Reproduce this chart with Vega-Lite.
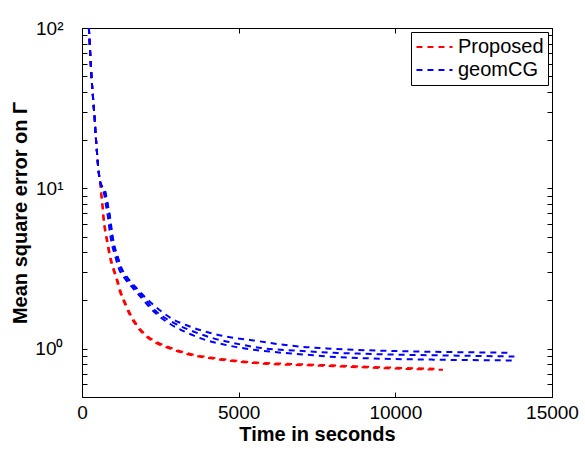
{
"$schema":"https://vega.github.io/schema/vega-lite/v6.json",
"width":470,"height":369,
"autosize":{"type":"none"},
"padding":{"left":82,"top":28,"right":33,"bottom":52},
"background":"white",
"config":{
 "font":"Liberation Sans",
 "view":{"stroke":"black","strokeWidth":1},
 "axis":{"grid":false,"domainColor":"black","tickColor":"black","labelColor":"black","titleColor":"black","labelFont":"Liberation Sans","titleFont":"Liberation Sans","labelFontSize":19,"titleFontSize":20,"titleFontWeight":"bold","tickSize":-5,"labelOverlap":false,"labelFlush":false},
 "legend":{"orient":"top-right","offset":4,"title":null,"symbolType":"stroke","symbolSize":1300,"symbolStrokeWidth":2,"symbolDash":[6,5],"labelFontSize":20,"labelFont":"Liberation Sans","labelColor":"black","labelOffset":4,"padding":4,"strokeColor":"black","strokeWidth":1,"fillColor":"white","clipHeight":22,"rowPadding":1,"labelLimit":300}
},
"data":{"values":[
{"m":"Proposed","r":"r1","t":219,"v":100},{"m":"Proposed","r":"r1","t":246,"v":80.6},{"m":"Proposed","r":"r1","t":265,"v":67.6},{"m":"Proposed","r":"r1","t":287,"v":56.1},{"m":"Proposed","r":"r1","t":310,"v":47.2},{"m":"Proposed","r":"r1","t":341,"v":39.3},{"m":"Proposed","r":"r1","t":373,"v":32.4},{"m":"Proposed","r":"r1","t":405,"v":27.3},{"m":"Proposed","r":"r1","t":428,"v":22.6},{"m":"Proposed","r":"r1","t":456,"v":19.1},{"m":"Proposed","r":"r1","t":488,"v":15.8},{"m":"Proposed","r":"r1","t":520,"v":13.3},{"m":"Proposed","r":"r1","t":574,"v":11.1},
{"m":"Proposed","r":"r1","t":606,"v":9.3},{"m":"Proposed","r":"r1","t":648,"v":7.73},{"m":"Proposed","r":"r1","t":680,"v":6.47},{"m":"Proposed","r":"r1","t":734,"v":5.4},{"m":"Proposed","r":"r1","t":807,"v":4.52},{"m":"Proposed","r":"r1","t":880,"v":3.77},{"m":"Proposed","r":"r1","t":989,"v":3.16},{"m":"Proposed","r":"r1","t":1107,"v":2.67},{"m":"Proposed","r":"r1","t":1213,"v":2.25},{"m":"Proposed","r":"r1","t":1372,"v":1.89},{"m":"Proposed","r":"r1","t":1532,"v":1.61},{"m":"Proposed","r":"r1","t":1746,"v":1.38},{"m":"Proposed","r":"r1","t":2011,"v":1.21},{"m":"Proposed","r":"r1","t":2384,"v":1.08},{"m":"Proposed","r":"r1","t":2754,"v":1.01},{"m":"Proposed","r":"r1","t":3128,"v":0.952},{"m":"Proposed","r":"r1","t":3552,"v":0.906},{"m":"Proposed","r":"r1","t":3980,"v":0.878},{"m":"Proposed","r":"r1","t":4404,"v":0.855},{"m":"Proposed","r":"r1","t":5043,"v":0.828},{"m":"Proposed","r":"r1","t":5467,"v":0.814},{"m":"Proposed","r":"r1","t":5895,"v":0.804},{"m":"Proposed","r":"r1","t":6319,"v":0.797},{"m":"Proposed","r":"r1","t":6957,"v":0.79},{"m":"Proposed","r":"r1","t":7810,"v":0.78},{"m":"Proposed","r":"r1","t":8234,"v":0.775},{"m":"Proposed","r":"r1","t":9086,"v":0.763},{"m":"Proposed","r":"r1","t":9725,"v":0.755},{"m":"Proposed","r":"r1","t":10682,"v":0.745},{"m":"Proposed","r":"r1","t":11521,"v":0.739},
{"m":"Proposed","r":"r2","t":219,"v":100},{"m":"Proposed","r":"r2","t":246,"v":80.6},{"m":"Proposed","r":"r2","t":265,"v":67.6},{"m":"Proposed","r":"r2","t":287,"v":56.1},{"m":"Proposed","r":"r2","t":310,"v":47.2},{"m":"Proposed","r":"r2","t":341,"v":39.3},{"m":"Proposed","r":"r2","t":373,"v":32.4},{"m":"Proposed","r":"r2","t":405,"v":27.3},{"m":"Proposed","r":"r2","t":428,"v":22.6},{"m":"Proposed","r":"r2","t":456,"v":19.1},{"m":"Proposed","r":"r2","t":488,"v":15.8},{"m":"Proposed","r":"r2","t":520,"v":13.3},{"m":"Proposed","r":"r2","t":574,"v":11.1},
{"m":"Proposed","r":"r2","t":620,"v":9.3},{"m":"Proposed","r":"r2","t":665,"v":7.73},{"m":"Proposed","r":"r2","t":700,"v":6.47},{"m":"Proposed","r":"r2","t":755,"v":5.4},{"m":"Proposed","r":"r2","t":830,"v":4.52},{"m":"Proposed","r":"r2","t":905,"v":3.77},{"m":"Proposed","r":"r2","t":1015,"v":3.16},{"m":"Proposed","r":"r2","t":1135,"v":2.67},{"m":"Proposed","r":"r2","t":1245,"v":2.25},{"m":"Proposed","r":"r2","t":1405,"v":1.89},{"m":"Proposed","r":"r2","t":1570,"v":1.61},{"m":"Proposed","r":"r2","t":1790,"v":1.38},{"m":"Proposed","r":"r2","t":2060,"v":1.21},{"m":"Proposed","r":"r2","t":2430,"v":1.09},{"m":"Proposed","r":"r2","t":2800,"v":1.02},{"m":"Proposed","r":"r2","t":3170,"v":0.962},{"m":"Proposed","r":"r2","t":3600,"v":0.915},{"m":"Proposed","r":"r2","t":4000,"v":0.888},{"m":"Proposed","r":"r2","t":4450,"v":0.864},{"m":"Proposed","r":"r2","t":5043,"v":0.837},{"m":"Proposed","r":"r2","t":5467,"v":0.823},{"m":"Proposed","r":"r2","t":5895,"v":0.814},{"m":"Proposed","r":"r2","t":6319,"v":0.808},{"m":"Proposed","r":"r2","t":6957,"v":0.8},{"m":"Proposed","r":"r2","t":7810,"v":0.79},{"m":"Proposed","r":"r2","t":8234,"v":0.785},{"m":"Proposed","r":"r2","t":9086,"v":0.772},{"m":"Proposed","r":"r2","t":9725,"v":0.764},{"m":"Proposed","r":"r2","t":10682,"v":0.755},{"m":"Proposed","r":"r2","t":11250,"v":0.75},
{"m":"geomCG","r":"b1","t":219,"v":100},{"m":"geomCG","r":"b1","t":246,"v":80.6},{"m":"geomCG","r":"b1","t":265,"v":67.6},{"m":"geomCG","r":"b1","t":287,"v":56.1},{"m":"geomCG","r":"b1","t":310,"v":47.2},{"m":"geomCG","r":"b1","t":341,"v":39.3},{"m":"geomCG","r":"b1","t":373,"v":32.4},{"m":"geomCG","r":"b1","t":405,"v":27.3},{"m":"geomCG","r":"b1","t":428,"v":22.6},{"m":"geomCG","r":"b1","t":456,"v":19.1},{"m":"geomCG","r":"b1","t":488,"v":15.8},{"m":"geomCG","r":"b1","t":520,"v":13.3},{"m":"geomCG","r":"b1","t":574,"v":11.1},
{"m":"geomCG","r":"b1","t":702,"v":9.3},{"m":"geomCG","r":"b1","t":770,"v":7.73},{"m":"geomCG","r":"b1","t":830,"v":6.59},{"m":"geomCG","r":"b1","t":885,"v":5.4},{"m":"geomCG","r":"b1","t":950,"v":4.52},{"m":"geomCG","r":"b1","t":1053,"v":3.82},{"m":"geomCG","r":"b1","t":1159,"v":3.23},{"m":"geomCG","r":"b1","t":1372,"v":2.73},{"m":"geomCG","r":"b1","t":1637,"v":2.37},{"m":"geomCG","r":"b1","t":1905,"v":2.07},{"m":"geomCG","r":"b1","t":2170,"v":1.8},{"m":"geomCG","r":"b1","t":2400,"v":1.63},{"m":"geomCG","r":"b1","t":2754,"v":1.45},{"m":"geomCG","r":"b1","t":3128,"v":1.32},{"m":"geomCG","r":"b1","t":3552,"v":1.21},{"m":"geomCG","r":"b1","t":3980,"v":1.127},{"m":"geomCG","r":"b1","t":4404,"v":1.075},{"m":"geomCG","r":"b1","t":4937,"v":1.023},{"m":"geomCG","r":"b1","t":5467,"v":0.986},{"m":"geomCG","r":"b1","t":6105,"v":0.955},{"m":"geomCG","r":"b1","t":6744,"v":0.931},{"m":"geomCG","r":"b1","t":7382,"v":0.91},{"m":"geomCG","r":"b1","t":7810,"v":0.895},{"m":"geomCG","r":"b1","t":9086,"v":0.872},{"m":"geomCG","r":"b1","t":11202,"v":0.855},{"m":"geomCG","r":"b1","t":13873,"v":0.845},
{"m":"geomCG","r":"b2","t":219,"v":100},{"m":"geomCG","r":"b2","t":246,"v":80.6},{"m":"geomCG","r":"b2","t":265,"v":67.6},{"m":"geomCG","r":"b2","t":287,"v":56.1},{"m":"geomCG","r":"b2","t":310,"v":47.2},{"m":"geomCG","r":"b2","t":341,"v":39.3},{"m":"geomCG","r":"b2","t":373,"v":32.4},{"m":"geomCG","r":"b2","t":405,"v":27.3},{"m":"geomCG","r":"b2","t":428,"v":22.6},{"m":"geomCG","r":"b2","t":456,"v":19.1},{"m":"geomCG","r":"b2","t":488,"v":15.8},{"m":"geomCG","r":"b2","t":520,"v":13.3},{"m":"geomCG","r":"b2","t":574,"v":11.1},
{"m":"geomCG","r":"b2","t":760,"v":9.3},{"m":"geomCG","r":"b2","t":830,"v":7.73},{"m":"geomCG","r":"b2","t":890,"v":6.59},{"m":"geomCG","r":"b2","t":940,"v":5.4},{"m":"geomCG","r":"b2","t":1000,"v":4.52},{"m":"geomCG","r":"b2","t":1100,"v":3.82},{"m":"geomCG","r":"b2","t":1220,"v":3.23},{"m":"geomCG","r":"b2","t":1430,"v":2.73},{"m":"geomCG","r":"b2","t":1700,"v":2.37},{"m":"geomCG","r":"b2","t":1980,"v":2.07},{"m":"geomCG","r":"b2","t":2250,"v":1.8},{"m":"geomCG","r":"b2","t":2550,"v":1.6},{"m":"geomCG","r":"b2","t":2900,"v":1.46},{"m":"geomCG","r":"b2","t":3300,"v":1.34},{"m":"geomCG","r":"b2","t":3750,"v":1.24},{"m":"geomCG","r":"b2","t":4200,"v":1.16},{"m":"geomCG","r":"b2","t":4700,"v":1.1},{"m":"geomCG","r":"b2","t":5200,"v":1.05},{"m":"geomCG","r":"b2","t":5895,"v":1.0},{"m":"geomCG","r":"b2","t":6744,"v":0.976},{"m":"geomCG","r":"b2","t":7596,"v":0.952},{"m":"geomCG","r":"b2","t":9000,"v":0.93},{"m":"geomCG","r":"b2","t":10500,"v":0.915},{"m":"geomCG","r":"b2","t":12000,"v":0.905},{"m":"geomCG","r":"b2","t":13800,"v":0.895},
{"m":"geomCG","r":"b3","t":219,"v":100},{"m":"geomCG","r":"b3","t":246,"v":80.6},{"m":"geomCG","r":"b3","t":265,"v":67.6},{"m":"geomCG","r":"b3","t":287,"v":56.1},{"m":"geomCG","r":"b3","t":310,"v":47.2},{"m":"geomCG","r":"b3","t":341,"v":39.3},{"m":"geomCG","r":"b3","t":373,"v":32.4},{"m":"geomCG","r":"b3","t":405,"v":27.3},{"m":"geomCG","r":"b3","t":428,"v":22.6},{"m":"geomCG","r":"b3","t":456,"v":19.1},{"m":"geomCG","r":"b3","t":488,"v":15.8},{"m":"geomCG","r":"b3","t":520,"v":13.3},{"m":"geomCG","r":"b3","t":574,"v":11.1},
{"m":"geomCG","r":"b3","t":740,"v":9.3},{"m":"geomCG","r":"b3","t":830,"v":7.73},{"m":"geomCG","r":"b3","t":895,"v":6.6},{"m":"geomCG","r":"b3","t":955,"v":5.4},{"m":"geomCG","r":"b3","t":1020,"v":4.52},{"m":"geomCG","r":"b3","t":1130,"v":3.82},{"m":"geomCG","r":"b3","t":1250,"v":3.23},{"m":"geomCG","r":"b3","t":1480,"v":2.73},{"m":"geomCG","r":"b3","t":1760,"v":2.37},{"m":"geomCG","r":"b3","t":2040,"v":2.07},{"m":"geomCG","r":"b3","t":2330,"v":1.84},{"m":"geomCG","r":"b3","t":2600,"v":1.67},{"m":"geomCG","r":"b3","t":2863,"v":1.54},{"m":"geomCG","r":"b3","t":3341,"v":1.4},{"m":"geomCG","r":"b3","t":4190,"v":1.24},{"m":"geomCG","r":"b3","t":4723,"v":1.18},{"m":"geomCG","r":"b3","t":5467,"v":1.127},{"m":"geomCG","r":"b3","t":6319,"v":1.064},{"m":"geomCG","r":"b3","t":7171,"v":1.023},{"m":"geomCG","r":"b3","t":7810,"v":1.005},{"m":"geomCG","r":"b3","t":9000,"v":0.98},{"m":"geomCG","r":"b3","t":10500,"v":0.962},{"m":"geomCG","r":"b3","t":12000,"v":0.952},{"m":"geomCG","r":"b3","t":13660,"v":0.944}
]},
"layer":[
 {"mark":{"type":"line","strokeDash":[6,5],"strokeWidth":2,"interpolate":"monotone","clip":true},
  "encoding":{
   "x":{"field":"t","type":"quantitative","scale":{"domain":[0,15000],"nice":false,"zero":false},
        "axis":{"values":[0,5000,10000,15000],"format":"d","labelPadding":11,"title":"Time in seconds","titleY":43,"titleBaseline":"alphabetic"}},
   "y":{"field":"v","type":"quantitative","scale":{"type":"log","domain":[0.5,100],"nice":false},
        "axis":{"values":[0.5,0.6,0.7,0.8,0.9,1,2,3,4,5,6,7,8,9,10,20,30,40,50,60,70,80,90,100],
                "labelExpr":"datum.value == 1 ? '10⁰' : datum.value == 10 ? '10¹' : datum.value == 100 ? '10²' : ''",
                "labelPadding":24,"title":"Mean square error on Γ","titleX":-62,"titleBaseline":"middle"}},
   "color":{"field":"m","type":"nominal","scale":{"domain":["Proposed","geomCG"],"range":["#ff0000","#0000ff"]},"legend":{"title":null}},
   "detail":{"field":"r","type":"nominal"}
  }},
 {"mark":{"type":"point","opacity":0},
  "encoding":{
   "x":{"field":"t","type":"quantitative","scale":{"domain":[0,15000],"nice":false,"zero":false},
        "axis":{"orient":"top","values":[0,5000,10000,15000],"labels":false,"title":null,"domain":false}},
   "y":{"field":"v","type":"quantitative","scale":{"type":"log","domain":[0.5,100],"nice":false},
        "axis":{"orient":"right","values":[0.5,0.6,0.7,0.8,0.9,1,2,3,4,5,6,7,8,9,10,20,30,40,50,60,70,80,90,100],"labels":false,"title":null,"domain":false}}
  }}
],
"resolve":{"scale":{"x":"independent","y":"independent"}}
}
